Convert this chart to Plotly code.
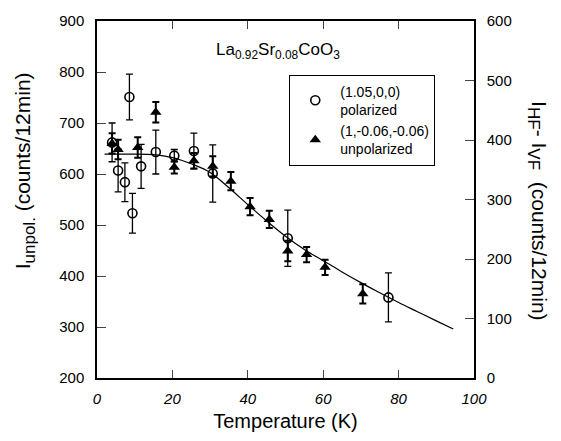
import plotly.graph_objects as go

# Polarized (1.05,0,0) - open circles
pol_T = [4, 5.6, 7.4, 8.6, 9.4, 11.7, 15.6, 20.5, 25.7, 30.7, 50.6, 77.3]
pol_I = [662, 607, 584, 751, 523, 615, 643, 636, 645, 601, 474, 358]
pol_err = [38, 42, 38, 45, 39, 43, 43, 12, 35, 56, 55, 48]

# Unpolarized (1,-0.06,-0.06) - filled triangles
unp_T = [4, 5.6, 10.8, 15.6, 20.5, 25.7, 30.7, 35.5, 40.6, 45.7, 50.6, 55.6, 60.5, 70.5]
unp_I = [660, 648, 652, 721, 613, 626, 615, 586, 536, 511, 449, 442, 417, 365]
unp_err = [20, 19, 20, 20, 12, 15, 20, 18, 17, 17, 20, 15, 15, 19]

# Fit curve
fit_T = [2, 5, 10, 15, 18, 20, 22, 25, 30, 35, 40, 45, 50, 55, 60, 65, 70, 75, 80, 85, 90, 94.5]
fit_I = [639, 639, 639, 638, 635, 632, 628, 620, 603, 573, 540, 508, 478, 452, 430, 408, 387, 367, 348, 330, 312, 296]

x_ticks = [0, 20, 40, 60, 80, 100]
y_ticks = [200, 300, 400, 500, 600, 700, 800, 900]
y2_ticks = [0, 100, 200, 300, 400, 500, 600]

FONT = "Liberation Sans, Arial, Helvetica, sans-serif"

fig = go.Figure()
fig.add_trace(go.Scatter(
    x=fit_T, y=fit_I, mode="lines", line=dict(color="black", width=1.2, shape="spline"),
    showlegend=False, hoverinfo="skip"))
fig.add_trace(go.Scatter(
    x=pol_T, y=pol_I, mode="markers", name="(1.05,0,0)<br>polarized",
    marker=dict(symbol="circle-open", size=9, color="black", line=dict(width=1.6, color="black")),
    error_y=dict(type="data", array=pol_err, color="black", thickness=1.3, width=3.5)))
fig.add_trace(go.Scatter(
    x=unp_T, y=unp_I, mode="markers", name="(1,-0.06,-0.06)<br>unpolarized",
    marker=dict(symbol="triangle-up", size=10, color="black"),
    error_y=dict(type="data", array=unp_err, color="black", thickness=2, width=3.5)))
# invisible trace to anchor the right axis
fig.add_trace(go.Scatter(x=[0], y=[0], yaxis="y2", mode="markers",
                         marker=dict(opacity=0), showlegend=False, hoverinfo="skip"))

fig.update_layout(
    width=561, height=441,
    margin=dict(l=97, r=87, t=16, b=57),
    paper_bgcolor="white", plot_bgcolor="white",
    font=dict(family=FONT, color="black", size=15),
    showlegend=True,
    legend=dict(x=0.51, y=0.85, xanchor="left", yanchor="top",
                bordercolor="black", borderwidth=1, bgcolor="white",
                font=dict(size=14, family=FONT), itemwidth=40, tracegroupgap=0),
    xaxis=dict(range=[0, 100], tickvals=x_ticks, ticks="inside", ticklen=8, tickwidth=1.2,
               showline=True, linecolor="black", linewidth=1.5, mirror="ticks",
               showgrid=False, zeroline=False,
               tickfont=dict(size=15, style="italic"), ticklabelstandoff=6,
               title=dict(text="Temperature (K)", font=dict(size=20), standoff=8)),
    yaxis=dict(range=[200, 900], tickvals=y_ticks, ticks="inside", ticklen=9, tickwidth=1.2,
               showline=True, linecolor="black", linewidth=1.5,
               showgrid=False, zeroline=False, ticklabelstandoff=8,
               tickfont=dict(size=15)),
    yaxis2=dict(range=[0, 600], tickvals=y2_ticks, ticks="inside", ticklen=9, tickwidth=1.2,
                overlaying="y", side="right", showline=True, linecolor="black", linewidth=1.5,
                showgrid=False, zeroline=False, ticklabelstandoff=8,
                tickfont=dict(size=15)),
)

fig.add_annotation(text="I<sub><span style='font-size:17px'>unpol.</span></sub> (counts/12min)",
                   xref="paper", yref="paper",
                   x=-0.19, y=0.58, textangle=-90, showarrow=False,
                   font=dict(size=21), xanchor="center", yanchor="middle")
fig.add_annotation(text="I<sub><span style='font-size:17px'>HF</span></sub>- I<sub><span style='font-size:17px'>VF</span></sub>  (counts/12min)",
                   xref="paper", yref="paper",
                   x=1.17, y=0.47, textangle=90, showarrow=False,
                   font=dict(size=21), xanchor="center", yanchor="middle")
fig.add_annotation(text="La<sub>0.92</sub>Sr<sub>0.08</sub>CoO<sub>3</sub>", xref="paper", yref="paper",
                   x=0.48, y=0.915, showarrow=False, font=dict(size=17),
                   xanchor="center", yanchor="middle")

fig.write_html("out.html")
